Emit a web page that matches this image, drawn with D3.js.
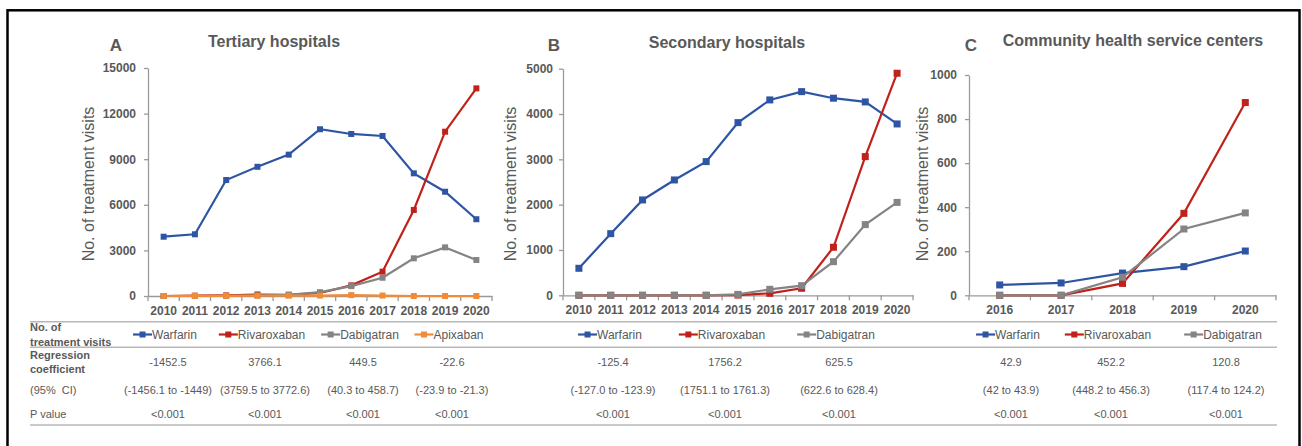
<!DOCTYPE html>
<html>
<head>
<meta charset="utf-8">
<script src="https://cdn.jsdelivr.net/npm/d3@7"></script>
<style>
  body { margin: 0; background: #fff; }
  text { font-family: "Liberation Sans", Arial, sans-serif; fill: #595959; }
</style>
</head>
<body>
<svg id="chart" width="1302" height="446"></svg>
<script>
// years on each x axis
var yearsAB = ["2010","2011","2012","2013","2014","2015","2016","2017","2018","2019","2020"]
var yearsC = ["2016","2017","2018","2019","2020"]

var drugs = ["Warfarin","Rivaroxaban","Dabigatran","Apixaban"]

// A - tertiary hospitals
var tertiaryWarfarin    = [3900,4060,7630,8500,9300,10970,10660,10530,8070,6860,5050]
var tertiaryRivaroxaban = [0,20,40,100,80,200,700,1600,5660,10810,13660]
var tertiaryDabigatran  = [0,0,10,30,80,250,650,1200,2480,3200,2370]
var tertiaryApixaban    = [0,10,10,20,20,30,60,30,0,0,0]

// B - secondary hospitals
var secondaryWarfarin    = [596,1360,2104,2545,2950,3810,4311,4494,4349,4267,3781]
var secondaryRivaroxaban = [0,0,0,0,0,5,44,155,1060,3060,4900]
var secondaryDabigatran  = [0,0,0,0,0,20,132,212,742,1560,2050]

// C - community health service centers
var communityWarfarin    = [47,56,101,130,201]
var communityRivaroxaban = [0,0,54,372,875]
var communityDabigatran  = [0,0,82,301,374]

// table under the charts
var regA = ["-1452.5","3766.1","449.5","-22.6"]
var ciA  = ["(-1456.1 to -1449)","(3759.5 to 3772.6)","(40.3 to 458.7)","(-23.9 to -21.3)"]
var pA   = ["<0.001","<0.001","<0.001","<0.001"]
var regB = ["-125.4","1756.2","625.5"]
var ciB  = ["(-127.0 to -123.9)","(1751.1 to 1761.3)","(622.6 to 628.4)"]
var pB   = ["<0.001","<0.001","<0.001"]
var regC = ["42.9","452.2","120.8"]
var ciC  = ["(42 to 43.9)","(448.2 to 456.3)","(117.4 to 124.2)"]
var pC   = ["<0.001","<0.001","<0.001"]

var colors = {Warfarin:"#2e55a3", Rivaroxaban:"#c0211a", Dabigatran:"#848484", Apixaban:"#f28b36"}

var svg = d3.select("#chart")

// outer frame
svg.append("rect")
   .attr("x",7.5).attr("y",10.3)
   .attr("width",1292).attr("height",460)
   .style("fill","none")
   .style("stroke","#000")
   .style("stroke-width",2.5)

function drawPanel(p){
  var x = d3.scaleBand().domain(p.years).range([p.x0,p.x1])
  var y = d3.scaleLinear().domain([0,p.max]).range([p.yBottom,p.yTop])
  var g = svg.append("g")

  // y axis
  var yAxis = g.append("g")
     .attr("transform",`translate(${p.x0},0)`)
     .call(d3.axisLeft(y).tickValues(d3.range(0,p.max+1,p.step)).tickSize(4).tickSizeOuter(0).tickPadding(p.yPad).tickFormat(d3.format("d")))
  yAxis.selectAll("path,line").style("stroke","#9a9a9a").style("stroke-width",1.3)
  yAxis.selectAll("text").style("font-size","12px").style("font-weight","bold")

  // x axis, labels at the category centres, ticks between them
  var xAxis = g.append("g")
     .attr("transform",`translate(0,${p.yBottom})`)
     .call(d3.axisBottom(x).tickSize(0).tickSizeOuter(0).tickPadding(10))
  xAxis.select("path").style("stroke","#9a9a9a").style("stroke-width",1.3)
  xAxis.selectAll("text").style("font-size","12px").style("font-weight","bold")
  var bounds = p.years.map(function(d){ return x(d) }).concat([p.x1])
  g.selectAll(".xtick").data(bounds).enter().append("line")
     .attr("x1",function(d){return d}).attr("x2",function(d){return d})
     .attr("y1",p.yBottom).attr("y2",p.yBottom+5)
     .style("stroke","#9a9a9a").style("stroke-width",1.3)

  // the series
  var line = d3.line()
     .x(function(d,i){ return x(p.years[i]) + x.bandwidth()/2 })
     .y(function(d){ return y(d) })
  p.series.forEach(function(s){
    g.append("path").datum(s.values)
     .attr("d",line)
     .style("fill","none")
     .style("stroke",colors[s.name])
     .style("stroke-width",2.2)
    g.selectAll(null).data(s.values).enter().append("rect")
     .attr("x",function(d,i){ return x(p.years[i]) + x.bandwidth()/2 - p.marker/2 })
     .attr("y",function(d){ return y(d) - p.marker/2 })
     .attr("width",p.marker).attr("height",p.marker)
     .style("fill",colors[s.name])
  })

  // titles
  g.append("text").text(p.letter)
     .attr("x",p.letterX).attr("y",50.5)
     .attr("text-anchor","middle")
     .style("font-size","17px").style("font-weight","bold")
  g.append("text").text(p.title)
     .attr("x",p.titleX).attr("y",p.titleY)
     .attr("text-anchor","middle")
     .style("font-size","16px").style("font-weight","bold")
  g.append("text").text("No. of treatment visits")
     .attr("transform",`translate(${p.labelX},184) rotate(-90)`)
     .attr("text-anchor","middle")
     .attr("dominant-baseline","central")
     .style("font-size","16px")

  // table columns
  p.series.forEach(function(s,i){
    var cx = p.cols[i]
    var item = g.append("g")
    item.append("line").attr("x1",0).attr("x2",19).attr("y1",0).attr("y2",0)
        .style("stroke",colors[s.name]).style("stroke-width",2.2)
    item.append("rect").attr("x",6.5).attr("y",-3).attr("width",6).attr("height",6)
        .style("fill",colors[s.name])
    var t = item.append("text").text(s.name).attr("x",19).attr("y",0)
        .attr("dominant-baseline","central").style("font-size","12px")
    var w = 19 + t.node().getComputedTextLength()
    item.attr("transform",`translate(${cx - w/2 - 3},334.5)`)

    var rows = [[p.reg[i],361.7],[p.ci[i],390],[p.pv[i],414]]
    rows.forEach(function(r){
      g.append("text").text(r[0]).attr("x",cx).attr("y",r[1])
       .attr("text-anchor","middle").attr("dominant-baseline","central")
       .style("font-size","11px")
    })
  })
}

drawPanel({
  years: yearsAB, x0:148, x1:492, yBottom:296, yTop:68, max:15000, step:3000, yPad:8,
  marker:6, letter:"A", letterX:116, title:"Tertiary hospitals", titleX:274, titleY:47,
  labelX:88, cols:[168,265,363,452],
  series:[{name:"Warfarin",values:tertiaryWarfarin},{name:"Rivaroxaban",values:tertiaryRivaroxaban},
          {name:"Dabigatran",values:tertiaryDabigatran},{name:"Apixaban",values:tertiaryApixaban}],
  reg:regA, ci:ciA, pv:pA
})

drawPanel({
  years: yearsAB, x0:563, x1:913, yBottom:295.3, yTop:68.7, max:5000, step:1000, yPad:6,
  marker:7, letter:"B", letterX:554, title:"Secondary hospitals", titleX:727, titleY:47.5,
  labelX:510, cols:[613,725,839],
  series:[{name:"Warfarin",values:secondaryWarfarin},{name:"Rivaroxaban",values:secondaryRivaroxaban},
          {name:"Dabigatran",values:secondaryDabigatran}],
  reg:regB, ci:ciB, pv:pB
})

drawPanel({
  years: yearsC, x0:969, x1:1276, yBottom:295.3, yTop:75, max:1000, step:200, yPad:8,
  marker:7, letter:"C", letterX:971, title:"Community health service centers", titleX:1133, titleY:45.5,
  labelX:922, cols:[1011,1111,1226],
  series:[{name:"Warfarin",values:communityWarfarin},{name:"Rivaroxaban",values:communityRivaroxaban},
          {name:"Dabigatran",values:communityDabigatran}],
  reg:regC, ci:ciC, pv:pC
})

// table headers and rules
var heads = [["No. of",327],["treatment visits",341.7],["Regression",355],["coefficient",369]]
heads.forEach(function(h){
  svg.append("text").text(h[0]).attr("x",30).attr("y",h[1])
     .attr("dominant-baseline","central")
     .style("font-size","11px").style("font-weight","bold")
})
svg.append("text").text("(95%  CI)").attr("x",30).attr("y",390)
   .attr("dominant-baseline","central").style("font-size","11px").style("white-space","pre")
svg.append("text").text("P value").attr("x",30).attr("y",414)
   .attr("dominant-baseline","central").style("font-size","11px")

var rules = [321.7,347.3,425]
svg.selectAll(".rule").data(rules).enter().append("line")
   .attr("x1",30).attr("x2",1277)
   .attr("y1",function(d){return d}).attr("y2",function(d){return d})
   .style("stroke","#b8b8b8").style("stroke-width",1.5)
</script>
</body>
</html>
